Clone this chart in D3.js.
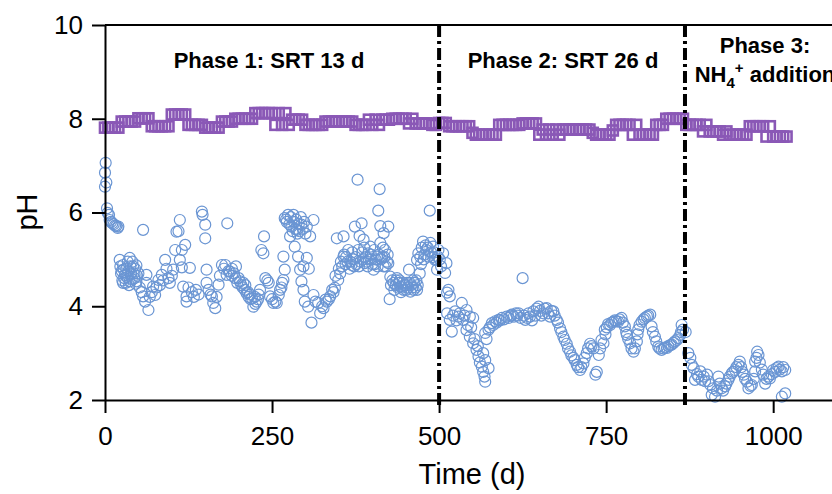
<!DOCTYPE html>
<html><head><meta charset="utf-8">
<script src="https://cdn.jsdelivr.net/npm/d3@7"></script>
<style>
body{margin:0;background:#fff;}
svg{display:block;font-family:"Liberation Sans",Arial,Helvetica,sans-serif;}
</style>
</head><body>
<svg id="chart" width="832" height="494"></svg>
<script>
const xTicks = [0, 250, 500, 750, 1000];
const yTicks = [2, 4, 6, 8, 10];
const xLabel = "Time (d)";
const yLabel = "pH";
const phaseBoundaries = [500, 868];

// Influent pH (squares): [day, pH]
const influentPH = [
[0,7.81],[5,7.81],[10,7.81],[15,7.81],[20,7.81],[25,7.94],[30,7.94],[35,7.94],[40,7.94],[45,7.94],
[50,8.01],[55,8.01],[60,8.01],[65,8.01],[70,7.84],[75,7.84],[80,7.84],[85,7.84],[90,7.84],[95,7.84],
[100,8.09],[105,8.09],[110,8.09],[115,8.09],[120,8.09],[125,7.87],[130,7.87],[135,7.87],[140,7.87],[145,7.87],
[150,7.81],[155,7.81],[160,7.81],[165,7.81],[170,7.81],[175,7.94],[180,7.94],[185,7.94],[190,7.94],[195,8.0],
[200,8.0],[205,8.0],[210,8.0],[215,8.0],[220,8.0],[225,8.12],[230,8.12],[235,8.12],[240,8.12],[245,8.12],
[250,8.12],[255,7.87],[260,8.12],[265,7.87],[270,8.12],[275,7.87],[280,7.98],[285,7.98],[290,7.98],[295,7.98],
[300,7.87],[305,7.87],[310,7.87],[315,7.87],[320,7.87],[325,7.87],[330,7.94],[335,7.94],[340,7.94],[345,7.94],
[350,7.94],[355,7.94],[360,7.94],[365,7.94],[370,7.94],[375,7.87],[380,7.87],[385,7.87],[390,7.87],[395,7.98],
[400,7.87],[405,7.98],[410,7.87],[415,7.98],[420,7.98],[425,7.98],[430,8.0],[435,8.0],[440,8.0],[445,8.0],
[450,8.0],[455,7.9],[460,8.0],[465,7.9],[470,7.9],[475,7.9],[480,7.9],[485,7.9],[490,7.87],[495,7.87],
[500,7.91],[505,7.91],[510,7.91],[515,7.84],[520,7.84],[525,7.84],[530,7.84],[535,7.84],[540,7.84],[545,7.84],
[550,7.70],[555,7.66],[560,7.66],[565,7.66],[570,7.66],[575,7.66],[580,7.66],[585,7.66],[590,7.87],[595,7.87],[600,7.87],
[605,7.87],[610,7.87],[615,7.87],[620,7.87],[625,7.9],[630,7.9],[635,7.9],[640,7.9],[645,7.9],[650,7.66],
[655,7.77],[660,7.66],[665,7.77],[670,7.66],[675,7.77],[680,7.66],[685,7.77],[690,7.77],[695,7.77],[700,7.77],
[705,7.77],[710,7.77],[715,7.77],[720,7.77],[725,7.77],[730,7.70],[735,7.66],[740,7.66],[745,7.66],[750,7.66],[755,7.66],
[760,7.75],[765,7.87],[770,7.87],[775,7.87],[780,7.87],[785,7.87],[790,7.66],[795,7.87],[800,7.66],[805,7.66],[810,7.66],
[815,7.66],[820,7.66],[825,7.87],[830,7.87],[835,7.87],[840,8.0],[845,8.0],[850,8.0],[855,8.0],[860,8.0],
[865,8.0],[870,7.87],[875,7.87],[880,7.87],[885,7.87],[890,7.87],[895,7.73],[900,7.87],[905,7.73],[910,7.73],
[915,7.73],[920,7.73],[925,7.66],[930,7.73],[935,7.66],[940,7.66],[945,7.66],[950,7.66],[955,7.66],[960,7.66],
[965,7.84],[970,7.84],[975,7.84],[980,7.84],[985,7.84],[990,7.62],[995,7.84],[1000,7.62],[1005,7.62],[1010,7.62],
[1015,7.62],[1020,7.62]
];

// Effluent pH (circles): [day, pH]
const effluentPhase1 = [
[0,6.85],[0,6.55],[1,7.06],[2,6.64],[3,6.09],[4,5.99],[6,5.95],[7,5.84],[9,5.80],[11,5.77],[13,5.75],[15,5.72],[17,5.71],[19,5.67],[20,5.70],
[22,4.99],[23,4.85],[25,4.75],[27,4.88],[27,4.50],[29,4.60],[30,4.67],[32,4.80],[34,4.95],[37,5.03],[37,4.53],[39,4.70],[42,4.85],[44,4.60],[47,4.87],[47,4.53],
[24,4.70],[26,4.55],[28,4.78],[31,4.50],[33,4.62],[35,4.75],[36,4.45],[38,4.85],[40,4.58],[41,4.95],[43,4.70],[45,4.80],[46,4.48],[48,4.65],
[50,4.70],[52,4.40],[55,4.30],[57,5.63],[57,4.21],[60,4.10],[62,4.67],[62,4.50],[65,3.92],[67,4.20],[70,4.30],[72,4.42],[75,4.24],[77,4.40],[80,4.56],[82,4.45],
[85,4.67],[87,4.55],[90,4.99],[92,4.80],[95,4.60],[97,4.50],[100,4.65],[102,4.78],[105,5.20],[107,5.59],[110,5.60],[112,5.84],[112,4.99],[115,5.20],[115,4.83],
[117,4.42],[120,5.31],[122,4.21],[122,4.10],[125,4.40],[127,4.82],[130,4.30],[133,4.20],[136,4.35],[140,4.25],[145,6.02],[146,5.95],[150,5.74],[150,5.45],
[152,4.78],[152,4.50],[155,4.35],[158,4.25],[160,4.21],[162,4.07],[165,3.96],[167,4.20],[170,4.46],[172,4.65],[175,4.88],[178,4.80],[180,4.88],[182,4.67],
[183,5.77],[185,4.75],[187,4.74],[190,4.65],[195,4.60],[198,4.50],[202,4.53],[204,4.45],[206,4.40],[209,4.35],[212,4.28],[215,4.20],[218,4.15],[220,4.17],
[190,4.80],[193,4.70],[196,4.85],[200,4.60],[207,4.50],[210,4.45],[214,4.30],[217,4.25],[224,4.20],[229,4.15],
[222,3.99],[225,4.05],[227,4.10],[230,4.25],[232,4.35],[234,5.20],[237,5.13],[238,5.49],[240,4.60],[243,4.55],[245,4.50],[247,4.21],[250,4.15],[252,4.07],
[255,4.10],[257,4.07],[260,4.24],[262,4.35],[265,4.50],[267,4.56],[267,5.06],[269,4.78],[269,5.88],[272,5.80],[274,5.95],[277,5.49],[279,5.70],[282,5.95],
[264,4.40],[271,5.85],[276,5.75],[278,5.90],[281,5.60],[283,5.80],[286,5.85],[288,5.55],[291,5.60],[293,5.90],[296,5.65],[298,5.80],[300,5.55],
[284,5.27],[285,5.65],[287,5.63],[289,5.06],[290,5.75],[292,4.78],[294,5.74],[294,4.53],[297,4.85],[297,4.35],[299,4.10],[302,5.70],[302,5.03],[304,3.99],
[305,4.80],[307,5.49],[309,3.65],[312,5.84],[312,4.24],[315,4.10],[319,4.07],[322,3.85],[325,4.00],[327,3.96],[330,4.14],[332,4.10],[335,4.15],[337,4.21],
[340,4.35],[342,4.30],[344,4.39],[347,5.45],[349,4.56],[352,4.70],[355,4.85],[357,5.49],[357,5.06],[360,4.90],[363,4.95],[366,4.80],[369,4.88],[372,5.00],
[345,4.65],[350,4.80],[353,4.95],[358,5.10],[361,5.05],[364,5.20],[367,4.95],[370,5.15],[373,4.85],[375,5.05],[379,5.20],[382,4.95],[385,5.15],[388,5.25],
[390,5.05],[393,4.85],[395,5.00],[398,5.10],[400,4.90],[403,5.20],[405,5.00],[408,4.85],[410,5.10],[413,5.00],[416,5.25],[418,5.05],[420,4.85],[423,5.10],
[374,5.70],[376,4.90],[378,6.70],[380,4.85],[381,5.50],[384,5.77],[386,5.00],[387,5.42],[389,4.92],[392,4.95],[394,5.13],[397,5.27],[399,5.00],[402,4.78],
[404,4.90],[407,5.06],[409,6.04],[411,6.50],[412,5.35],[412,5.71],[415,5.05],[417,5.56],[417,4.85],[419,5.20],[422,4.95],[424,5.70],[424,4.92],[426,4.15],
[427,4.63],[430,4.55],[432,4.50],[435,4.45],[437,4.60],[440,4.50],[442,4.42],[445,4.40],[447,4.35],[450,4.45],[452,4.50],[455,4.78],[457,4.31],[460,4.40],
[428,4.45],[433,4.35],[436,4.55],[438,4.40],[441,4.55],[443,4.30],[446,4.50],[448,4.45],[451,4.35],[453,4.40],[456,4.50],[458,4.45],[461,4.55],[463,4.50],
[466,4.55],[468,4.45],[471,4.70],[473,4.90],[477,5.00],[480,5.30],[483,5.25],[487,5.35],[490,5.05],[493,5.15],[496,5.00],
[462,4.35],[465,4.40],[467,4.35],[467,4.99],[469,5.13],[472,5.05],[474,5.25],[476,5.38],[478,5.10],[481,5.20],[484,5.06],[486,6.04],[488,5.15],[491,5.27],
[494,4.99],[497,4.78],[498,5.06],[499,5.20]
];
const effluentPhase2 = [
[501,5.00],[503,4.85],[506,5.13],[509,4.71],[511,4.92],[512,4.29],[514,4.35],[516,4.21],[512,3.85],[516,3.71],[519,3.46],[521,3.80],[524,3.89],[526,3.70],
[529,3.78],[531,3.85],[534,4.07],[536,3.71],[538,3.80],[541,3.92],[541,3.49],[543,3.60],[546,3.78],[546,3.35],[548,3.55],[551,3.75],[551,3.21],[553,3.30],
[556,3.07],[558,3.15],[559,2.93],[561,2.80],[564,2.71],[566,2.60],[566,3.00],[568,2.50],[569,2.39],[569,2.85],[569,3.43],[571,3.30],[574,2.68],[574,3.50],
[576,3.55],[579,3.64],[581,3.60],[584,3.68],[586,3.65],[589,3.71],[591,3.70],[594,3.75],[597,3.72],[601,3.78],[604,3.75],[607,3.80],[609,3.82],[612,3.78],
[615,3.85],[617,3.80],[619,3.85],[622,3.75],[625,4.60],[627,3.80],[629,3.71],[632,3.75],[634,3.85],[636,3.78],[639,3.70],[641,3.89],[644,3.80],[646,3.95],
[649,3.99],[651,3.90],[653,3.80],[656,3.85],[658,3.95],[661,3.96],[663,3.85],[666,3.78],[668,3.90],[671,3.89],[673,3.80],[676,3.71],[678,3.65],[681,3.53],
[683,3.45],[686,3.35],[688,3.28],[691,3.20],[693,3.10],[696,3.03],[698,2.95],[701,2.90],[703,2.85],[706,2.75],[708,2.70],[711,2.64],[713,2.70],[716,2.78],
[718,2.90],[721,3.00],[723,3.10],[726,3.20],[728,3.15],[731,3.10],[734,2.54],[736,2.60],[739,2.96],[741,3.10],[743,3.28],[746,3.21],[748,3.50],[749,3.40],
[751,3.55],[753,3.62],[756,3.60],[758,3.65],[761,3.67],[763,3.70],[765,3.68],[768,3.67],[770,3.72],[773,3.75],[775,3.65],[778,3.57],[780,3.45],[781,3.39],
[783,3.30],[786,3.21],[788,3.10],[791,3.03],[793,3.10],[796,3.25],[797,3.40],[798,3.50],[800,3.60],[803,3.67],[806,3.72],[808,3.75],[811,3.78],[813,3.80],
[816,3.82],[818,3.57],[820,3.45],[823,3.35],[825,3.25],[828,3.14],[830,3.10],[833,3.07],[836,3.10],[838,3.12],[841,3.11],[843,3.15],[846,3.17],[848,3.18],
[851,3.22],[853,3.25],[856,3.28],[858,3.32],[861,3.39],[862,3.45],[863,3.60],[865,3.50]
];
const effluentPhase3 = [
[869,3.45],[873,3.00],[876,2.90],[878,2.75],[881,2.68],[883,2.43],[886,2.55],[888,2.50],[891,2.61],[893,2.43],[896,2.50],[898,2.40],[901,2.54],[903,2.40],
[906,2.32],[908,2.11],[910,2.25],[913,2.07],[916,2.20],[918,2.50],[920,2.35],[923,2.25],[925,2.20],[928,2.29],[930,2.35],[933,2.43],[935,2.50],[938,2.57],
[940,2.60],[943,2.64],[945,2.70],[948,2.75],[950,2.82],[952,2.70],[954,2.60],[956,2.54],[958,2.45],[961,2.39],[963,2.25],[966,2.30],[968,2.32],[971,2.45],
[973,2.61],[973,2.82],[975,2.90],[976,3.03],[978,2.96],[980,2.80],[983,2.65],[985,2.54],[988,2.35],[990,2.45],[993,2.50],[995,2.46],[998,2.55],[1000,2.64],
[1003,2.60],[1005,2.68],[1008,2.71],[1010,2.65],[1013,2.61],[1013,2.07],[1015,2.70],[1018,2.64],[1018,2.14]
];

const svg = d3.select("#chart");
svg.append("rect").attr("width", 832).attr("height", 494).attr("fill", "#fff");

const x = d3.scaleLinear().domain([0, 1100]).range([105, 840]);
const y = d3.scaleLinear().domain([2, 10]).range([400, 25]);

const purple = "#8a58b6";
const blue = "#6a95d3";

// influent squares
const sq = 10;
svg.append("g").selectAll("rect").data(influentPH).join("rect")
  .attr("x", d => x(d[0]) - sq / 2).attr("y", d => y(d[1]) - sq / 2)
  .attr("width", sq).attr("height", sq)
  .attr("fill", "none").attr("stroke", purple).attr("stroke-width", 2.6);

// effluent circles
const effluent = effluentPhase1.concat(effluentPhase2, effluentPhase3);
svg.append("g").selectAll("circle").data(effluent).join("circle")
  .attr("cx", d => x(d[0])).attr("cy", d => y(d[1])).attr("r", 5.5)
  .attr("fill", "none").attr("stroke", blue).attr("stroke-width", 1.2);

// top frame line
svg.append("line").attr("x1", 105).attr("x2", 840).attr("y1", y(10)).attr("y2", y(10))
  .attr("stroke", "#000").attr("stroke-width", 2);

// axes
const xAxis = d3.axisBottom(x).tickValues(xTicks).tickFormat(d3.format("d"))
  .tickSize(13).tickSizeOuter(0).tickPadding(14);
const yAxis = d3.axisLeft(y).tickValues(yTicks).tickFormat(d3.format("d"))
  .tickSize(13).tickSizeOuter(0).tickPadding(9);
const gx = svg.append("g").attr("transform", "translate(0,400)").call(xAxis);
const gy = svg.append("g").attr("transform", "translate(105,0)").call(yAxis);
[gx, gy].forEach(g => {
  g.selectAll("path,line").attr("stroke", "#000").attr("stroke-width", 2);
  g.selectAll("text").attr("fill", "#000").style("font-size", "26px")
    .style("font-family", "'Liberation Sans', Arial, sans-serif");
});

// phase boundaries
svg.append("g").selectAll("line").data(phaseBoundaries).join("line")
  .attr("x1", d => x(d)).attr("x2", d => x(d)).attr("y1", y(10)).attr("y2", 405)
  .attr("stroke", "#000").attr("stroke-width", 4).attr("stroke-dasharray", "12,4,3,4");

// phase labels
const lab = svg.append("g").attr("font-weight", "bold").attr("font-size", 22).attr("fill", "#000").attr("text-anchor", "middle");
lab.append("text").attr("x", 269).attr("y", 68).text("Phase 1: SRT 13 d");
lab.append("text").attr("x", 563).attr("y", 68).text("Phase 2: SRT 26 d");
lab.append("text").attr("x", 765).attr("y", 53).text("Phase 3:");
const t3 = lab.append("text").attr("x", 765).attr("y", 82);
t3.append("tspan").text("NH");
t3.append("tspan").attr("font-size", 15).attr("dy", 6).text("4");
t3.append("tspan").attr("font-size", 15).attr("dy", -15).text("+");
t3.append("tspan").attr("dy", 9).text(" addition");

// axis titles
svg.append("text").attr("x", 472).attr("y", 484).attr("text-anchor", "middle")
  .attr("font-size", 29).attr("fill", "#000").text(xLabel);
svg.append("text").attr("transform", "translate(37,212) rotate(-90)").attr("text-anchor", "middle")
  .attr("font-size", 29).attr("fill", "#000").text(yLabel);
</script>
</body></html>
